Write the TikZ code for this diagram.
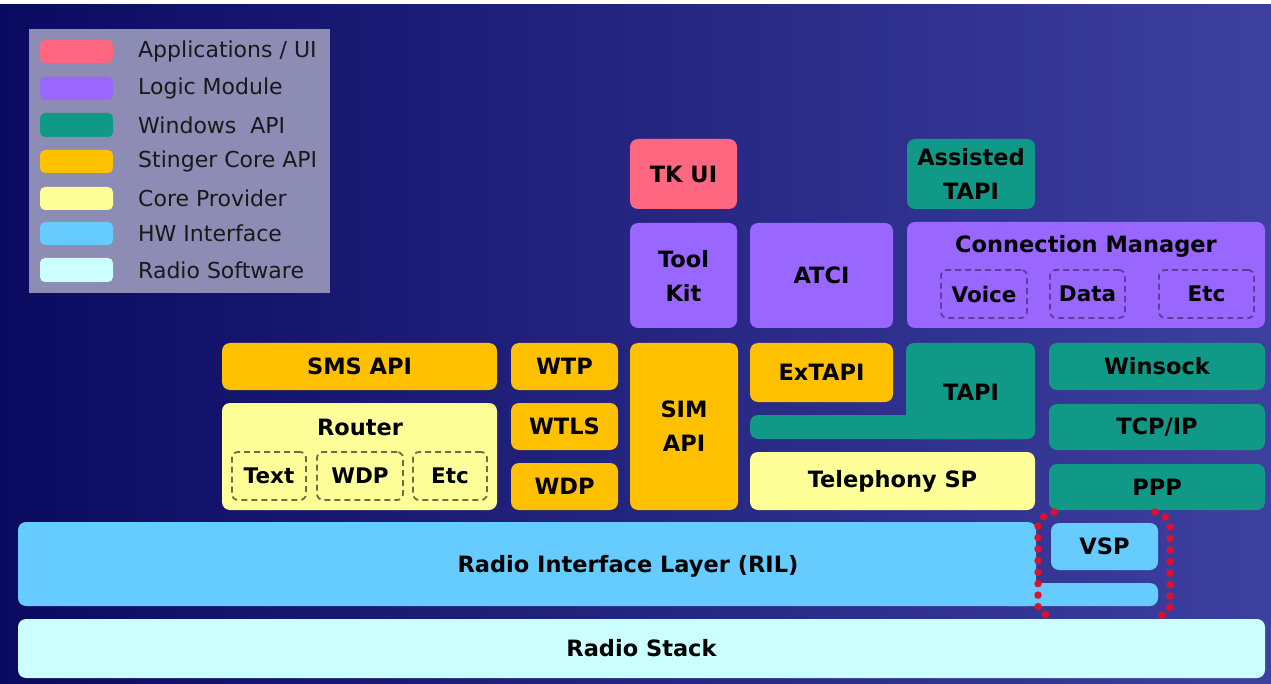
\documentclass[tikz,border=0pt]{standalone}
\usepackage{fontspec}
\setmainfont{DejaVu Sans}
\definecolor{cPink}{HTML}{FF6680}
\definecolor{cPurple}{HTML}{9966FF}
\definecolor{cTeal}{HTML}{119988}
\definecolor{cOrange}{HTML}{FFC000}
\definecolor{cYellow}{HTML}{FFFF99}
\definecolor{cBlue}{HTML}{66CCFF}
\definecolor{cPale}{HTML}{CCFFFF}
\definecolor{cLegend}{HTML}{8C8CB4}
\definecolor{bgL}{HTML}{0A0A60}
\definecolor{bgR}{HTML}{3E40A0}
\definecolor{cRed}{HTML}{E0102A}
\definecolor{cOlive}{HTML}{6E6E3C}
\definecolor{cDPurple}{HTML}{5E3C9E}
% \mkbox{style}{name}{x1}{y1}{x2}{y2}{text}
\newcommand{\mkbox}[7]{\node[#1, minimum width={(#5-#3)*1pt}, minimum height={(#6-#4)*1pt}] (#2) at ({(#3+#5)/2},{(#4+#6)/2}) {#7};}
\begin{document}
\begin{tikzpicture}[x=1pt,y=-1pt,
  blk/.style={rounded corners=8pt, inner sep=0pt, text=black, align=center, font=\bfseries\fontsize{22.5}{34}\selectfont},
  subbox/.style={blk, rounded corners=6pt, draw, line width=1.8pt, dash pattern=on 6pt off 4pt, font=\bfseries\fontsize{21.5}{25}\selectfont},
  swatch/.style={rounded corners=5pt, inner sep=0pt},
  lgtxt/.style={anchor=west, inner sep=0pt, text=black!90, font=\fontsize{22}{25}\selectfont},
  dots/.style={cRed, line width=7.5pt, line cap=round, dash pattern=on 0pt off 11.5pt}
]
\useasboundingbox (0,0) rectangle (1271,684);
% background
\shade[left color=bgL, right color=bgR] (0,0) rectangle (1271,684);
\fill[white] (0,0) rectangle (1271,4);

% legend
\mkbox{fill=cLegend, inner sep=0pt}{legend}{29}{29}{330}{293}{}
\mkbox{swatch, fill=cPink}{sw1}{40}{40}{113}{63}{}
\mkbox{swatch, fill=cPurple}{sw2}{40}{77}{113}{100}{}
\mkbox{swatch, fill=cTeal}{sw3}{40}{113}{113}{137}{}
\mkbox{swatch, fill=cOrange}{sw4}{40}{150}{113}{173}{}
\mkbox{swatch, fill=cYellow}{sw5}{40}{187}{113}{210}{}
\mkbox{swatch, fill=cBlue}{sw6}{40}{222}{113}{245}{}
\mkbox{swatch, fill=cPale}{sw7}{40}{258}{113}{282}{}
\node[lgtxt] (lg1) at (138,51)  {Applications / UI};
\node[lgtxt] (lg2) at (138,88)  {Logic Module};
\node[lgtxt] (lg3) at (138,125) {Windows\ \ API};
\node[lgtxt] (lg4) at (138,161) {Stinger Core API};
\node[lgtxt] (lg5) at (138,198) {Core Provider};
\node[lgtxt] (lg6) at (138,233) {HW Interface};
\node[lgtxt] (lg7) at (138,270) {Radio Software};

% top layer
\mkbox{blk, fill=cPink}{tkui}{630}{139}{737}{209}{TK UI}
\mkbox{blk, fill=cTeal}{assisted}{907}{139}{1035}{209}{Assisted\\TAPI}
\mkbox{blk, fill=cPurple}{toolkit}{630}{223}{737}{328}{Tool\\Kit}
\mkbox{blk, fill=cPurple}{atci}{750}{223}{893}{328}{ATCI}
\mkbox{blk, fill=cPurple}{connmgr}{907}{222}{1265}{328}{}
\node[blk] (cmlbl) at (1086,246) {Connection Manager};
\mkbox{subbox, draw=cDPurple}{voice}{941}{270}{1027}{318}{Voice}
\mkbox{subbox, draw=cDPurple}{data}{1050}{270}{1125}{318}{Data}
\mkbox{subbox, draw=cDPurple}{cmetc}{1159}{270}{1254}{318}{Etc}

% middle layer
\mkbox{blk, fill=cOrange}{sms}{222}{343}{497}{390}{SMS API}
\mkbox{blk, fill=cYellow}{router}{222}{403}{497}{510}{}
\node[blk] (routerlbl) at (360,427) {Router};
\mkbox{subbox, draw=cOlive}{rtext}{232}{452}{306}{500}{Text}
\mkbox{subbox, draw=cOlive}{rwdp}{317}{452}{403}{500}{WDP}
\mkbox{subbox, draw=cOlive}{retc}{413}{452}{487}{500}{Etc}
\mkbox{blk, fill=cOrange}{wtp}{511}{343}{618}{390}{WTP}
\mkbox{blk, fill=cOrange}{wtls}{511}{403}{618}{450}{WTLS}
\mkbox{blk, fill=cOrange}{wdp}{511}{463}{618}{510}{WDP}
\mkbox{blk, fill=cOrange}{sim}{630}{343}{738}{510}{SIM\\API}
\mkbox{blk, fill=cTeal}{tapi}{906}{343}{1035}{439}{}
\mkbox{blk, fill=cTeal}{tapibar}{750}{415}{1035}{439}{}
\node[blk] (tapilbl) at (971,392) {TAPI};
\mkbox{blk, fill=cOrange}{extapi}{750}{343}{893}{402}{ExTAPI}
\mkbox{blk, fill=cYellow}{telsp}{750}{452}{1035}{510}{Telephony SP}
\mkbox{blk, fill=cTeal}{winsock}{1049}{343}{1265}{390}{Winsock}
\mkbox{blk, fill=cTeal}{tcpip}{1049}{404}{1265}{450}{TCP/IP}
\mkbox{blk, fill=cTeal}{ppp}{1049}{464}{1265}{510}{PPP}

% bottom layers
\mkbox{blk, fill=cBlue}{ril}{18}{522}{1036}{606}{}
\mkbox{blk, fill=cBlue}{rilbar}{1000}{583}{1158}{606}{}
\node[blk] (rillbl) at (628,566) {Radio Interface Layer (RIL)};
\mkbox{blk, fill=cBlue}{vsp}{1051}{523}{1158}{570}{VSP}
\mkbox{blk, fill=cPale}{stack}{18}{619}{1265}{678}{Radio Stack}

% red dotted brackets around VSP
\draw[dots] (1054,512) to[out=200,in=90] (1038,526) -- (1038,606) to[out=-90,in=160] (1052,617);
\draw[dots] (1155,512) to[out=-20,in=90] (1170,526) -- (1170,606) to[out=-90,in=20] (1157,617);
\end{tikzpicture}
\end{document}
